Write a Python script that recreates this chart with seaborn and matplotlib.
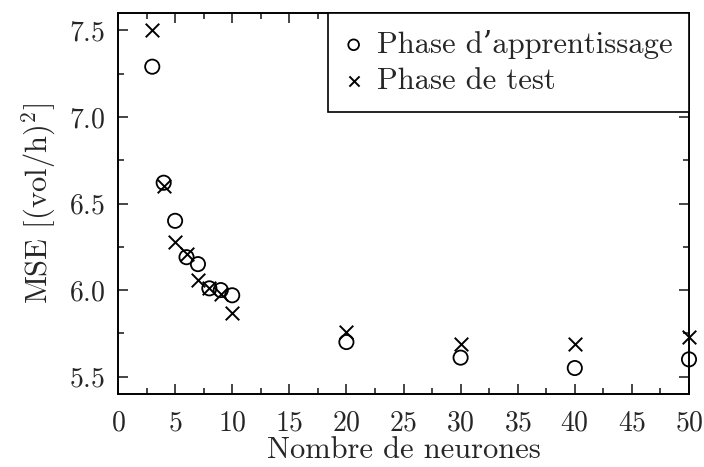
import matplotlib
matplotlib.use("Agg")
import matplotlib.pyplot as plt
import seaborn as sns
import pandas as pd
from matplotlib.ticker import MultipleLocator

neurones = [3, 4, 5, 6, 7, 8, 9, 10, 20, 30, 40, 50]
mse_apprentissage = [7.29, 6.62, 6.40, 6.19, 6.15, 6.01, 6.00, 5.97, 5.70, 5.61, 5.55, 5.60]
mse_test = [7.50, 6.60, 6.28, 6.21, 6.06, 6.01, 5.98, 5.87, 5.76, 5.69, 5.69, 5.73]
label_app = "Phase d\u2019apprentissage"
label_test = "Phase de test"

sns.set_style("ticks")
plt.rcParams["font.family"] = ["cmr10", "DejaVu Serif"]
plt.rcParams["mathtext.fontset"] = "cm"
plt.rcParams["axes.formatter.use_mathtext"] = True

df = pd.DataFrame({"n": neurones, "app": mse_apprentissage, "test": mse_test})

fig = plt.figure(figsize=(7.04, 4.67), dpi=100)
ax = fig.add_axes([118/704, (467-394)/467, (689-118)/704, (394-13)/467])

sns.scatterplot(data=df, x="n", y="app", ax=ax, marker="o", s=105,
                facecolors="none", edgecolors="black", linewidth=1.3,
                label=label_app, clip_on=False, zorder=3)
sns.scatterplot(data=df, x="n", y="test", ax=ax, marker="x", s=95,
                color="black", linewidth=1.4, label=label_test,
                clip_on=False, zorder=3)

ax.set_xlim(0, 50)
ax.set_ylim(5.4, 7.6)
ax.xaxis.set_major_locator(MultipleLocator(5))
ax.xaxis.set_minor_locator(MultipleLocator(2.5))
ax.yaxis.set_major_locator(MultipleLocator(0.5))
ax.yaxis.set_minor_locator(MultipleLocator(0.25))
ax.tick_params(which="both", direction="in", top=True, right=True, width=1.2)
ax.tick_params(which="major", length=7, labelsize=20)
ax.tick_params(axis="x", which="major", pad=11.5)
ax.tick_params(axis="y", which="major", pad=9)
ax.tick_params(which="minor", length=4)
for s in ax.spines.values():
    s.set_linewidth(1.4)
    s.set_color("black")

ax.set_xlabel("Nombre de neurones", fontsize=22, labelpad=0)
ax.set_ylabel(r"MSE $[(\mathrm{vol/h})^2]$", fontsize=22, labelpad=8)

leg = ax.legend(loc="upper right", fontsize=22, fancybox=False, framealpha=1,
                edgecolor="black", borderaxespad=0, handletextpad=0.45,
                borderpad=0.55, labelspacing=0.28, handlelength=0.6,
                markerscale=0.75)
leg.get_frame().set_linewidth(1.2)

fig.savefig("out.png", dpi=100)
